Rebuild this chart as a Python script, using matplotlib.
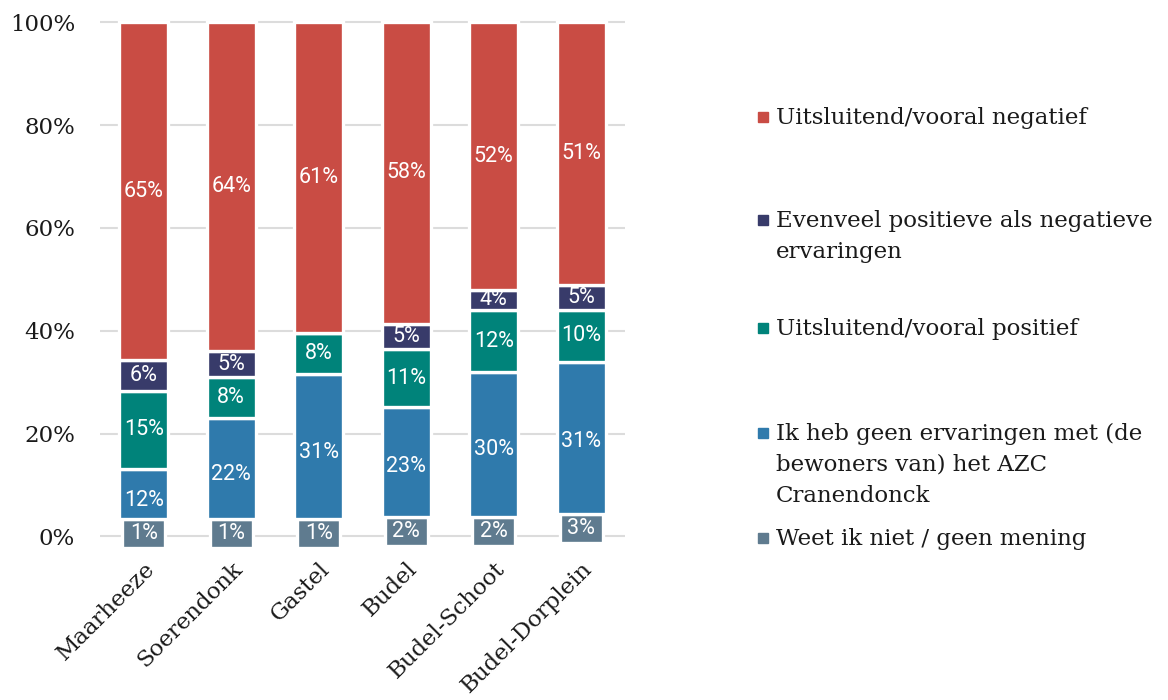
import numpy as np
import matplotlib
matplotlib.use("Agg")
from matplotlib import pyplot as plt
from matplotlib.patches import Rectangle

# data (percentages per village)
categories = ["Maarheeze", "Soerendonk", "Gastel", "Budel", "Budel-Schoot", "Budel-Dorplein"]
weet_niet = [1, 1, 1, 2, 2, 3]
geen_ervaring = [12, 22, 31, 23, 30, 31]
positief = [15, 8, 8, 11, 12, 10]
evenveel = [6, 5, 0, 5, 4, 5]
negatief = [65, 64, 61, 58, 52, 51]

legend_labels = [
    "Uitsluitend/vooral negatief",
    "Evenveel positieve als negatieve\nervaringen",
    "Uitsluitend/vooral positief",
    "Ik heb geen ervaringen met (de\nbewoners van) het AZC\nCranendonck",
    "Weet ik niet / geen mening",
]

col_neg = "#c94c44"
col_even = "#383b6a"
col_pos = "#00837a"
col_geen = "#2f7aac"
col_weet = "#5f7b8f"

serif = "DejaVu Serif"
sans = "Roboto"

fig = plt.figure(figsize=(11.68, 7), dpi=100)
ax = fig.add_axes([0.0856, 0.197, 0.4495, 0.7857])

x = np.arange(len(categories))
series = [weet_niet, geen_ervaring, positief, evenveel, negatief]
colors = [col_weet, col_geen, col_pos, col_even, col_neg]

data = np.array(series, dtype=float)
shares = data / data.sum(axis=0) * 100  # stacked to 100%
tops = np.cumsum(shares, axis=0)
bottoms = tops - shares

barw = 0.555
lw = 2.4
minbox = 5.65  # the smallest segment is shown as a label box

# bottom segment: box of minimal height around its centre
centre0 = bottoms[0] + shares[0] / 2
box_h = np.maximum(shares[0], minbox)
box_bot = centre0 - box_h / 2
box_top = box_bot + box_h
ax.bar(x, box_h, bottom=box_bot, width=0.487, color=colors[0],
       edgecolor="white", linewidth=lw, zorder=3)

for i in range(1, len(series)):
    b = bottoms[i].copy()
    if i == 1:
        b = np.maximum(b, box_top)
    h = tops[i] - b
    ax.bar(x, h, bottom=b, width=barw, color=colors[i],
           edgecolor="white", linewidth=lw, zorder=3)

# value labels at the centre of each nominal segment
for i in range(len(series)):
    for j in range(len(categories)):
        if data[i, j] <= 0:
            continue
        yc = bottoms[i, j] + shares[i, j] / 2
        ax.text(x[j], yc, f"{int(data[i, j])}%", ha="center", va="center",
                color="white", fontsize=15.5, family=sans, zorder=4)

ax.set_xlim(-0.5, 5.5)
ax.set_ylim(-5, 102)
ax.set_yticks([0, 20, 40, 60, 80, 100])
ax.set_yticklabels([f"{v}%" for v in [0, 20, 40, 60, 80, 100]],
                   family=serif, fontsize=16.5, color="#1a1a1a")
ax.tick_params(axis="y", length=0, pad=18)
ax.grid(axis="y", color="#dcdcdc", linewidth=1.5, zorder=0)
ax.set_axisbelow(True)
for s in ax.spines.values():
    s.set_visible(False)

ax.set_xticks(x)
ax.set_xticklabels(categories, rotation=45, ha="right", rotation_mode="anchor",
                   family=serif, fontsize=16.5, color="#1a1a1a")
ax.tick_params(axis="x", length=0, pad=-3)

# legend on the right, drawn by hand, one line at a time
W, H = 1168.0, 700.0
leg_colors = [col_neg, col_even, col_pos, col_geen, col_weet]
baselines = [124, 227, 335, 440, 545]
line_gap = 31
for lab, c, yb in zip(legend_labels, leg_colors, baselines):
    for k, line in enumerate(lab.split("\n")):
        fig.text(776 / W, 1 - (yb + k * line_gap) / H, line, ha="left",
                 va="baseline", family=serif, fontsize=16.5, color="#1a1a1a")
    fig.add_artist(Rectangle((758 / W, 1 - (yb - 2) / H), 10 / W, 10 / H,
                             transform=fig.transFigure, color=c))

fig.savefig("out.png", dpi=100)
